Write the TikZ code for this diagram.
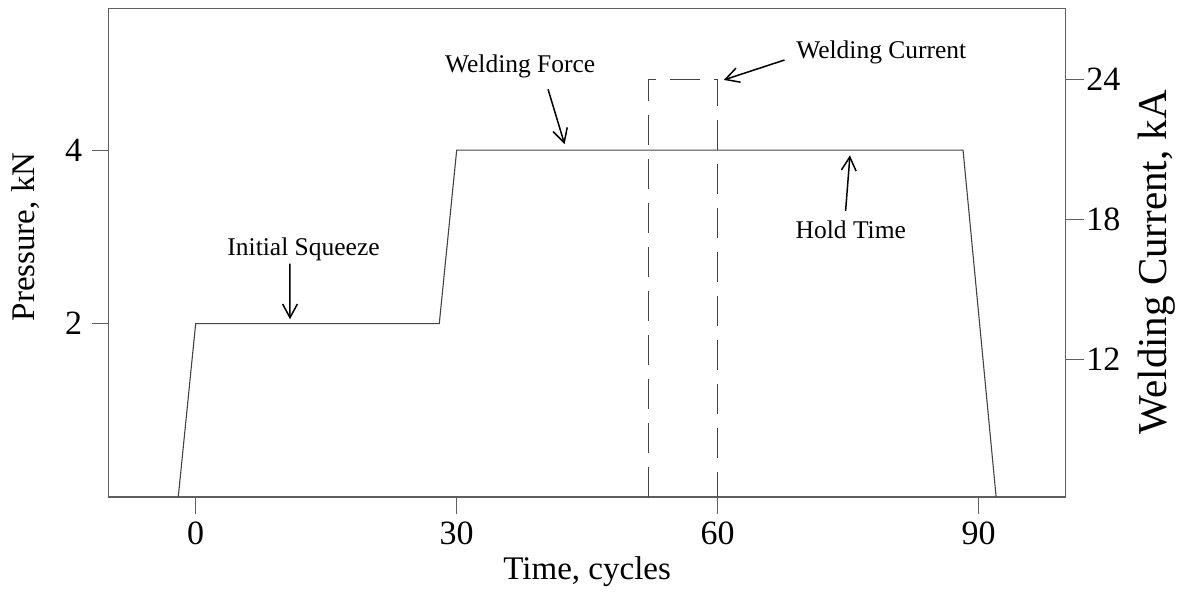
\documentclass[tikz,border=0pt]{standalone}
\usepackage{fontspec}
\setmainfont{Liberation Serif}
\usetikzlibrary{arrows.meta,positioning,calc}
\definecolor{axisgray}{RGB}{95,95,95}
\tikzset{
  frame/.style={draw=axisgray, line width=0.65pt},
  tickmark/.style={draw=axisgray, line width=0.6pt},
  xticklab/.style={font=\fontsize{17}{20}\selectfont, inner sep=3.5pt},
  yticklab/.style={font=\fontsize{17}{20}\selectfont, inner sep=4.5pt},
  iticklab/.style={font=\fontsize{17}{20}\selectfont, inner sep=1pt},
  axislab/.style={font=\fontsize{16.5}{20}\selectfont},
  currlab/.style={font=\fontsize{20.5}{24}\selectfont},
  annot/.style={font=\fontsize{12.75}{15}\selectfont, inner sep=0pt},
  profile/.style={draw=axisgray!70!black, line width=0.55pt},
  pulse/.style={draw=axisgray!70!black, line width=0.55pt, dash pattern=on 15pt off 7pt},
  arrow/.style={-{Straight Barb[length=2.4mm,width=2.6mm]}, line width=0.75pt},
}

\begin{document}
\begin{tikzpicture}[x=4.35pt, y=43.35pt]
\useasboundingbox (-22.49,-1.119) rectangle (112.79,5.732);

% frame of the plot
\draw[frame] (-10,0) rectangle (100,5.63);

% ticks
\foreach \t in {0,30,60,90}
  \draw[tickmark] (\t,0) -- ++(0,-8.5pt) node[xticklab, below] (xt\t) {\t};
\foreach \p in {2,4}
  \draw[tickmark] (-10,\p) -- ++(-8.5pt,0) node[yticklab, left] (yt\p) {\p};
\foreach \c/\y in {12/1.588,18/3.203,24/4.818}
  \draw[tickmark] (100,\y) -- ++(9pt,0) node[iticklab, right] (it\c) {\c};

% axis titles
\node[axislab] (xlab) at (45,-0.865) {Time, cycles};
\node[axislab, rotate=90] (ylab) at (-19.5,3.0) {Pressure, kN};
\node[currlab, rotate=90] (ilab) at (110.5,2.71) {Welding Current, kA};

% force profile and current pulse
\draw[profile] (-2,0) -- (0,2) -- (28,2) -- (30,4) -- (88.2,4) -- (92,0);
\draw[pulse] (52,0) -- (52,4.818) -- (60,4.818) -- (60,0);

% labels
\node[annot, anchor=base] (squeeze) at (12.4,2.78) {Initial Squeeze};
\node[annot, anchor=base] (force) at (37.3,4.90) {Welding Force};
\node[annot, anchor=base] (current) at (78.8,5.06) {Welding Current};
\node[annot, anchor=base] (hold) at (75.3,2.98) {Hold Time};

\coordinate (squeezetip) at (10.84,2.05);
\coordinate (forcetip) at (42.4,4.07);
\coordinate (currenttip) at (60.7,4.81);
\coordinate (holdtip) at (75.2,3.94);

\draw[arrow] ($(squeeze.south)+(-1.56,-0.02)$) -- (squeezetip);
\draw[arrow] ($(force.south)+(3.2,-0.13)$) -- (forcetip);
\draw[arrow] ($(current.base west)+(-1.3,-0.02)$) -- (currenttip);
\draw[arrow] ($(hold.north)+(-0.6,0.11)$) -- (holdtip);
\end{tikzpicture}
\end{document}
